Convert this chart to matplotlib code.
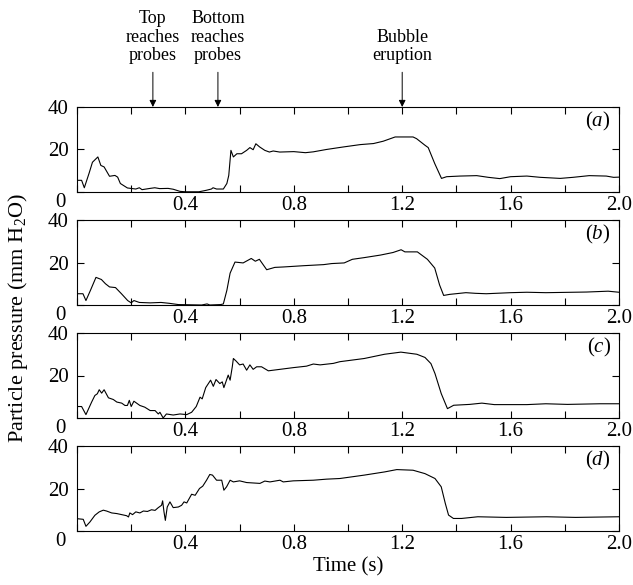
import numpy as np
import matplotlib
matplotlib.use("Agg")
import matplotlib.pyplot as plt
from matplotlib.transforms import ScaledTranslation

plt.rcParams['font.family'] = ['Liberation Serif', 'DejaVu Serif']
plt.rcParams['mathtext.fontset'] = 'custom'
plt.rcParams['mathtext.rm'] = 'Liberation Serif'
plt.rcParams['mathtext.it'] = 'Liberation Serif:italic'

# panel (a)
t_a = [0.000, 0.017, 0.027, 0.045, 0.057, 0.077, 0.088, 0.100, 0.120, 0.140,
       0.150, 0.160, 0.186, 0.217, 0.230, 0.240, 0.270, 0.287, 0.305, 0.336,
       0.355, 0.380, 0.400, 0.450, 0.477, 0.496, 0.502, 0.515, 0.540, 0.553,
       0.560, 0.568, 0.577, 0.590, 0.607, 0.626, 0.638, 0.650, 0.660, 0.674,
       0.693, 0.710, 0.724, 0.748, 0.800, 0.843, 0.872, 0.920, 0.967, 0.983,
       1.045, 1.094, 1.130, 1.174, 1.240, 1.253, 1.284, 1.296, 1.320, 1.345,
       1.364, 1.413, 1.475, 1.518, 1.560, 1.600, 1.660, 1.710, 1.783, 1.830,
       1.890, 1.953, 1.980, 2.000]
p_a = [5.5, 5.5, 2.0, 9.0, 14.0, 16.5, 12.5, 11.8, 7.4, 7.8,
       7.0, 4.0, 1.9, 1.4, 2.0, 1.1, 1.7, 2.0, 1.6, 1.7,
       1.3, 0.3, 0.1, 0.1, 0.8, 1.4, 2.0, 1.4, 1.4, 4.0,
       7.8, 19.6, 16.5, 18.0, 18.0, 19.6, 20.9, 19.9, 22.7, 21.2,
       19.6, 18.8, 19.3, 18.8, 19.0, 18.5, 18.9, 20.0, 20.9, 21.2,
       22.3, 22.8, 23.9, 25.9, 25.9, 25.1, 22.0, 20.9, 13.4, 6.4,
       7.2, 7.5, 7.7, 6.9, 6.3, 7.2, 7.5, 6.9, 6.4, 6.9,
       7.7, 7.5, 6.9, 7.0]

# panel (b)
t_b = [0.000, 0.022, 0.033, 0.050, 0.070, 0.090, 0.105, 0.120, 0.142, 0.164,
       0.187, 0.200, 0.210, 0.230, 0.270, 0.310, 0.340, 0.374, 0.460, 0.480,
       0.490, 0.530, 0.540, 0.553, 0.565, 0.583, 0.613, 0.643, 0.658, 0.673,
       0.700, 0.730, 0.762, 0.837, 0.910, 0.940, 0.986, 1.016, 1.060, 1.120,
       1.166, 1.196, 1.210, 1.256, 1.293, 1.320, 1.338, 1.353, 1.375, 1.435,
       1.470, 1.510, 1.600, 1.660, 1.730, 1.880, 1.960, 2.000]
p_b = [5.3, 5.3, 2.1, 7.0, 13.0, 12.0, 10.0, 8.5, 8.2, 5.3,
       2.1, 1.0, 2.1, 1.2, 1.0, 1.2, 0.8, 0.2, 0.0, 0.5,
       0.0, 0.2, 0.5, 6.9, 15.0, 20.2, 19.8, 21.9, 20.6, 21.5,
       16.6, 17.7, 17.9, 18.5, 19.0, 19.5, 19.8, 21.5, 22.3, 23.5,
       24.7, 26.0, 25.0, 25.0, 21.5, 17.4, 9.4, 4.5, 5.0, 5.8,
       5.5, 5.3, 5.8, 6.0, 5.8, 6.1, 6.5, 6.0]

# panel (c)
t_c = [0.000, 0.017, 0.033, 0.054, 0.066, 0.075, 0.082, 0.091, 0.100, 0.116,
       0.134, 0.147, 0.165, 0.177, 0.186, 0.193, 0.200, 0.210, 0.232, 0.250,
       0.270, 0.288, 0.300, 0.306, 0.318, 0.330, 0.355, 0.380, 0.405, 0.423,
       0.440, 0.454, 0.462, 0.475, 0.493, 0.503, 0.513, 0.527, 0.536, 0.542,
       0.558, 0.565, 0.573, 0.577, 0.587, 0.600, 0.613, 0.626, 0.638, 0.650,
       0.663, 0.681, 0.706, 0.749, 0.798, 0.847, 0.872, 0.897, 0.946, 0.970,
       1.060, 1.135, 1.195, 1.254, 1.284, 1.306, 1.321, 1.344, 1.367, 1.390,
       1.449, 1.494, 1.540, 1.660, 1.730, 1.810, 1.930, 2.000]
p_c = [5.4, 5.4, 1.6, 7.5, 10.6, 11.4, 13.3, 11.7, 13.3, 9.5,
       8.7, 7.5, 7.0, 5.9, 5.9, 8.3, 5.4, 7.9, 5.9, 5.1,
       3.5, 3.5, 1.9, 2.7, 0.0, 1.9, 1.4, 1.9, 1.6, 2.7,
       5.4, 9.8, 9.0, 14.3, 17.8, 14.9, 18.1, 16.2, 17.0, 14.3,
       20.2, 17.8, 24.1, 28.0, 26.8, 25.0, 25.4, 22.5, 25.0, 22.9,
       24.1, 24.1, 22.2, 22.9, 23.7, 24.4, 25.4, 25.0, 25.7, 26.5,
       28.0, 30.0, 31.0, 30.0, 28.5, 25.6, 20.9, 11.5, 4.4, 6.0,
       6.4, 7.0, 6.3, 6.3, 6.7, 6.4, 6.7, 6.7]

# panel (d)
t_d = [0.000, 0.023, 0.033, 0.048, 0.066, 0.082, 0.097, 0.109, 0.128, 0.147,
       0.165, 0.183, 0.190, 0.195, 0.205, 0.217, 0.232, 0.245, 0.260, 0.275,
       0.288, 0.300, 0.312, 0.316, 0.321, 0.326, 0.333, 0.343, 0.355, 0.374,
       0.386, 0.395, 0.405, 0.423, 0.436, 0.452, 0.464, 0.478, 0.490, 0.500,
       0.515, 0.534, 0.542, 0.552, 0.565, 0.577, 0.600, 0.626, 0.675, 0.693,
       0.712, 0.749, 0.761, 0.798, 0.872, 0.921, 0.970, 1.060, 1.135, 1.180,
       1.240, 1.284, 1.321, 1.344, 1.359, 1.371, 1.389, 1.419, 1.479, 1.584,
       1.733, 1.840, 2.000]
p_d = [5.8, 5.5, 2.2, 4.3, 7.4, 9.0, 9.8, 9.4, 8.5, 8.2,
       7.7, 7.2, 6.6, 8.5, 7.7, 9.0, 8.5, 9.4, 9.2, 10.0,
       9.7, 11.0, 12.1, 14.2, 9.0, 5.0, 11.3, 13.7, 11.0, 11.3,
       12.1, 13.7, 13.2, 17.3, 16.8, 20.0, 21.1, 23.9, 26.6, 26.3,
       23.9, 23.9, 19.2, 20.8, 23.9, 23.1, 23.6, 22.8, 22.4, 23.5,
       23.1, 23.9, 23.1, 23.6, 23.9, 24.4, 24.7, 26.3, 27.8, 28.9,
       28.6, 27.0, 24.7, 20.8, 13.0, 7.5, 5.9, 5.9, 6.7, 6.4,
       6.7, 6.4, 6.7]

panels = [(t_a, p_a, 'a'), (t_b, p_b, 'b'), (t_c, p_c, 'c'), (t_d, p_d, 'd')]

events = [(0.28, 'Top\nreaches\nprobes'),
          (0.52, 'Bottom\nreaches\nprobes'),
          (1.20, 'Bubble\neruption')]

xticks = np.arange(0, 2.01, 0.2)
xlabels = ['%.1f' % x if (i % 2 == 0 and i > 0) else '' for i, x in enumerate(xticks)]

W, H = 633, 585
fig = plt.figure(figsize=(W / 100, H / 100), dpi=100)

axes = []
for i, (t, p, lab) in enumerate(panels):
    top = 107 + 113 * i
    ax = fig.add_axes([77 / W, 1 - (top + 85) / H, 542 / W, 85 / H])
    ax.plot(t, p, color='black', lw=0.8)
    ax.set_xlim(0, 2.0)
    ax.set_ylim(0, 40)
    ax.set_xticks(xticks)
    ax.set_xticklabels(xlabels)
    ax.set_yticks([0, 20, 40])
    ax.set_yticklabels(['0', '20', '40'])
    ax.tick_params(direction='in', top=True, right=True, length=5, width=0.8,
                   labelsize=15)
    ax.tick_params(axis='y', pad=6)
    ax.tick_params(axis='x', pad=3)
    ylbls = ax.get_yticklabels()
    ylbls[0].set_transform(ylbls[0].get_transform() +
                           ScaledTranslation(-2 / 72, -6 / 72, fig.dpi_scale_trans))
    for s in ax.spines.values():
        s.set_linewidth(0.8)
    ax.text(0.985, 0.83, '$(%s)$' % lab, transform=ax.transAxes,
            ha='right', va='center', fontsize=15)
    axes.append(ax)

for x, txt in events:
    axes[0].annotate(txt, xy=(x, 40), xytext=(0, 31), textcoords='offset points',
                     ha='center', va='bottom', fontsize=13, linespacing=1.1,
                     annotation_clip=False,
                     arrowprops=dict(arrowstyle='-|>', color='black', lw=0.7,
                                     shrinkA=4, shrinkB=0, mutation_scale=10))

fig.text(18 / W, 1 - 318 / H, 'Particle pressure (mm H$_2$O)', rotation=90,
         ha='center', va='center', fontsize=16)
fig.text(348 / W, 1 - 567 / H, 'Time (s)', ha='center', va='center', fontsize=15)

fig.savefig('out.png', dpi=100)
